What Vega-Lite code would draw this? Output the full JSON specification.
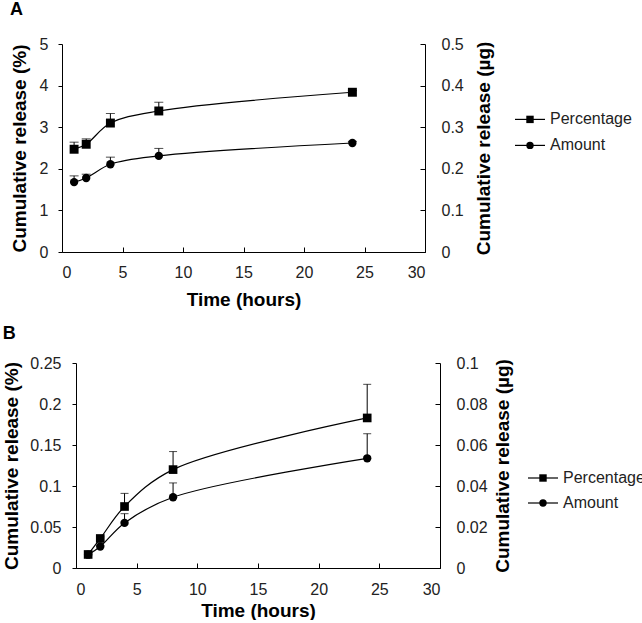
{
  "$schema": "https://vega.github.io/schema/vega-lite/v6.json",
  "padding": {"left": 2, "top": 1, "right": 0, "bottom": 0},
  "background": "white",
  "datasets": {
    "A": [
      {"series": "Percentage", "time": 1, "value": 2.47, "upper": 2.64},
      {"series": "Percentage", "time": 2, "value": 2.59, "upper": 2.72},
      {"series": "Percentage", "time": 4, "value": 3.10, "upper": 3.33},
      {"series": "Percentage", "time": 8, "value": 3.39, "upper": 3.60},
      {"series": "Percentage", "time": 24, "value": 3.84, "upper": 3.88},
      {"series": "Amount", "time": 1, "value": 0.168, "upper": 0.183},
      {"series": "Amount", "time": 2, "value": 0.178, "upper": 0.187},
      {"series": "Amount", "time": 4, "value": 0.211, "upper": 0.228},
      {"series": "Amount", "time": 8, "value": 0.231, "upper": 0.249},
      {"series": "Amount", "time": 24, "value": 0.262, "upper": 0.266}
    ],
    "B": [
      {"series": "Percentage", "time": 1, "value": 0.0165, "upper": 0.0175},
      {"series": "Percentage", "time": 2, "value": 0.036, "upper": 0.038},
      {"series": "Percentage", "time": 4, "value": 0.075, "upper": 0.091},
      {"series": "Percentage", "time": 8, "value": 0.120, "upper": 0.142},
      {"series": "Percentage", "time": 24, "value": 0.183, "upper": 0.224},
      {"series": "Amount", "time": 1, "value": 0.0065, "upper": 0.0068},
      {"series": "Amount", "time": 2, "value": 0.0105, "upper": 0.011},
      {"series": "Amount", "time": 4, "value": 0.022, "upper": 0.0265},
      {"series": "Amount", "time": 8, "value": 0.0345, "upper": 0.0415},
      {"series": "Amount", "time": 24, "value": 0.0535, "upper": 0.0655}
    ],
    "legend": [
      {"label": "Percentage", "k": 1},
      {"label": "Amount", "k": 2}
    ]
  },
  "config": {
    "font": "Liberation Sans",
    "view": {"stroke": null},
    "axis": {
      "grid": false,
      "domainColor": "black",
      "tickColor": "black",
      "labelColor": "#222",
      "labelFontSize": 16,
      "labelFont": "Liberation Sans",
      "titleFont": "Liberation Sans",
      "titleFontSize": 19,
      "titleFontWeight": "bold",
      "titleColor": "black"
    },
    "title": {"fontSize": 18, "fontWeight": "bold", "anchor": "start", "frame": "bounds", "color": "black", "font": "Liberation Sans"}
  },
  "columns": 1,
  "align": "none",
  "spacing": 16,
  "concat": [
    {
      "spacing": 20,
      "hconcat": [
        {
          "title": {"text": "A", "offset": 17},
          "width": 363,
          "height": 208,
          "data": {"name": "A"},
          "resolve": {"scale": {"y": "independent"}},
          "layer": [
            {
              "transform": [{"filter": "datum.series === 'Percentage'"}],
              "layer": [
                {
                  "mark": {"type": "line", "interpolate": "catmull-rom", "color": "black", "strokeWidth": 1.2},
                  "encoding": {
                    "x": {"field": "time", "type": "quantitative", "scale": {"domain": [0, 30], "nice": false},
                      "axis": {"title": "Time (hours)", "format": "~g", "values": [0, 5, 10, 15, 20, 25, 30], "tickSize": -5, "labelPadding": 17, "titlePadding": 10, "labelAngle": 0}},
                    "y": {"field": "value", "type": "quantitative", "scale": {"domain": [0, 5], "nice": false},
                      "axis": {"title": "Cumulative release (%)", "format": "~g", "values": [0, 1, 2, 3, 4, 5], "tickSize": 4, "labelPadding": 10, "titlePadding": 10}}
                  }
                },
                {
                  "mark": {"type": "rule", "color": "black", "strokeWidth": 1},
                  "encoding": {
                    "x": {"field": "time", "type": "quantitative"},
                    "y": {"field": "value", "type": "quantitative"},
                    "y2": {"field": "upper"}
                  }
                },
                {
                  "mark": {"type": "tick", "orient": "horizontal", "color": "black", "size": 9, "thickness": 1},
                  "encoding": {
                    "x": {"field": "time", "type": "quantitative"},
                    "y": {"field": "upper", "type": "quantitative"}
                  }
                },
                {
                  "mark": {"type": "point", "shape": "square", "filled": true, "color": "black", "opacity": 1, "size": 80},
                  "encoding": {
                    "x": {"field": "time", "type": "quantitative"},
                    "y": {"field": "value", "type": "quantitative"}
                  }
                }
              ]
            },
            {
              "transform": [{"filter": "datum.series === 'Amount'"}],
              "layer": [
                {
                  "mark": {"type": "line", "interpolate": "catmull-rom", "color": "black", "strokeWidth": 1.2},
                  "encoding": {
                    "x": {"field": "time", "type": "quantitative"},
                    "y": {"field": "value", "type": "quantitative", "scale": {"domain": [0, 0.5], "nice": false},
                      "axis": {"orient": "right", "title": "Cumulative release (µg)", "format": "~g", "values": [0, 0.1, 0.2, 0.3, 0.4, 0.5], "tickSize": -5, "labelPadding": 21, "titlePadding": 11, "titleAngle": 270, "titleBaseline": "top"}}
                  }
                },
                {
                  "mark": {"type": "rule", "color": "black", "strokeWidth": 1},
                  "encoding": {
                    "x": {"field": "time", "type": "quantitative"},
                    "y": {"field": "value", "type": "quantitative"},
                    "y2": {"field": "upper"}
                  }
                },
                {
                  "mark": {"type": "tick", "orient": "horizontal", "color": "black", "size": 9, "thickness": 1},
                  "encoding": {
                    "x": {"field": "time", "type": "quantitative"},
                    "y": {"field": "upper", "type": "quantitative"}
                  }
                },
                {
                  "mark": {"type": "point", "shape": "circle", "filled": true, "color": "black", "opacity": 1, "size": 70},
                  "encoding": {
                    "x": {"field": "time", "type": "quantitative"},
                    "y": {"field": "value", "type": "quantitative"}
                  }
                }
              ]
            }
          ]
        },
        {
          "width": 110,
          "height": 208,
          "data": {"name": "legend"},
          "encoding": {
            "y": {"field": "k", "type": "quantitative", "scale": {"domain": [-1.9, 6.1], "reverse": true, "nice": false, "zero": false}, "axis": null}
          },
          "layer": [
            {
              "mark": {"type": "rule", "color": "black", "strokeWidth": 1.2},
              "encoding": {
                "x": {"datum": 0, "type": "quantitative", "scale": {"domain": [0, 11], "nice": false}, "axis": null},
                "x2": {"datum": 3}
              }
            },
            {
              "mark": {"type": "point", "filled": true, "color": "black", "opacity": 1, "size": 55},
              "encoding": {
                "x": {"datum": 1.5, "type": "quantitative"},
                "shape": {"field": "label", "type": "nominal", "scale": {"domain": ["Percentage", "Amount"], "range": ["square", "circle"]}, "legend": null}
              }
            },
            {
              "mark": {"type": "text", "align": "left", "baseline": "middle", "fontSize": 16, "color": "#222"},
              "encoding": {
                "x": {"datum": 3.5, "type": "quantitative"},
                "text": {"field": "label"}
              }
            }
          ]
        }
      ]
    },
    {
      "spacing": 14,
      "hconcat": [
        {
          "title": {"text": "B", "offset": 12},
          "width": 378,
          "height": 205,
          "data": {"name": "B"},
          "resolve": {"scale": {"y": "independent"}},
          "layer": [
            {
              "transform": [{"filter": "datum.series === 'Percentage'"}],
              "layer": [
                {
                  "mark": {"type": "line", "interpolate": "catmull-rom", "color": "black", "strokeWidth": 1.2},
                  "encoding": {
                    "x": {"field": "time", "type": "quantitative", "scale": {"domain": [0, 30], "nice": false, "range": [14, 378]},
                      "axis": {"title": "Time (hours)", "format": "~g", "values": [0, 5, 10, 15, 20, 25, 30], "tickSize": -5, "labelPadding": 18, "titlePadding": 4, "labelAngle": 0}},
                    "y": {"field": "value", "type": "quantitative", "scale": {"domain": [0, 0.25], "nice": false},
                      "axis": {"title": "Cumulative release (%)", "format": "~g", "values": [0, 0.05, 0.1, 0.15, 0.2, 0.25], "tickSize": 4, "labelPadding": 11, "titlePadding": 8, "offset": -14}}
                  }
                },
                {
                  "mark": {"type": "rule", "color": "black", "strokeWidth": 1},
                  "encoding": {
                    "x": {"field": "time", "type": "quantitative"},
                    "y": {"field": "value", "type": "quantitative"},
                    "y2": {"field": "upper"}
                  }
                },
                {
                  "mark": {"type": "tick", "orient": "horizontal", "color": "black", "size": 8, "thickness": 1},
                  "encoding": {
                    "x": {"field": "time", "type": "quantitative"},
                    "y": {"field": "upper", "type": "quantitative"}
                  }
                },
                {
                  "mark": {"type": "point", "shape": "square", "filled": true, "color": "black", "opacity": 1, "size": 75},
                  "encoding": {
                    "x": {"field": "time", "type": "quantitative"},
                    "y": {"field": "value", "type": "quantitative"}
                  }
                }
              ]
            },
            {
              "transform": [{"filter": "datum.series === 'Amount'"}],
              "layer": [
                {
                  "mark": {"type": "line", "interpolate": "catmull-rom", "color": "black", "strokeWidth": 1.2},
                  "encoding": {
                    "x": {"field": "time", "type": "quantitative"},
                    "y": {"field": "value", "type": "quantitative", "scale": {"domain": [0, 0.1], "nice": false},
                      "axis": {"orient": "right", "title": "Cumulative release (µg)", "format": "~g", "values": [0, 0.02, 0.04, 0.06, 0.08, 0.1], "tickSize": -5, "labelPadding": 21, "titlePadding": 6, "titleAngle": 270, "titleBaseline": "top"}}
                  }
                },
                {
                  "mark": {"type": "rule", "color": "black", "strokeWidth": 1},
                  "encoding": {
                    "x": {"field": "time", "type": "quantitative"},
                    "y": {"field": "value", "type": "quantitative"},
                    "y2": {"field": "upper"}
                  }
                },
                {
                  "mark": {"type": "tick", "orient": "horizontal", "color": "black", "size": 8, "thickness": 1},
                  "encoding": {
                    "x": {"field": "time", "type": "quantitative"},
                    "y": {"field": "upper", "type": "quantitative"}
                  }
                },
                {
                  "mark": {"type": "point", "shape": "circle", "filled": true, "color": "black", "opacity": 1, "size": 70},
                  "encoding": {
                    "x": {"field": "time", "type": "quantitative"},
                    "y": {"field": "value", "type": "quantitative"}
                  }
                }
              ]
            }
          ]
        },
        {
          "width": 110,
          "height": 205,
          "data": {"name": "legend"},
          "encoding": {
            "y": {"field": "k", "type": "quantitative", "scale": {"domain": [-3.6, 4.6], "reverse": true, "nice": false, "zero": false}, "axis": null}
          },
          "layer": [
            {
              "mark": {"type": "rule", "color": "black", "strokeWidth": 1.2},
              "encoding": {
                "x": {"datum": 0, "type": "quantitative", "scale": {"domain": [0, 11], "nice": false}, "axis": null},
                "x2": {"datum": 3}
              }
            },
            {
              "mark": {"type": "point", "filled": true, "color": "black", "opacity": 1, "size": 55},
              "encoding": {
                "x": {"datum": 1.5, "type": "quantitative"},
                "shape": {"field": "label", "type": "nominal", "scale": {"domain": ["Percentage", "Amount"], "range": ["square", "circle"]}, "legend": null}
              }
            },
            {
              "mark": {"type": "text", "align": "left", "baseline": "middle", "fontSize": 16, "color": "#222"},
              "encoding": {
                "x": {"datum": 3.5, "type": "quantitative"},
                "text": {"field": "label"}
              }
            }
          ]
        }
      ]
    }
  ]
}
